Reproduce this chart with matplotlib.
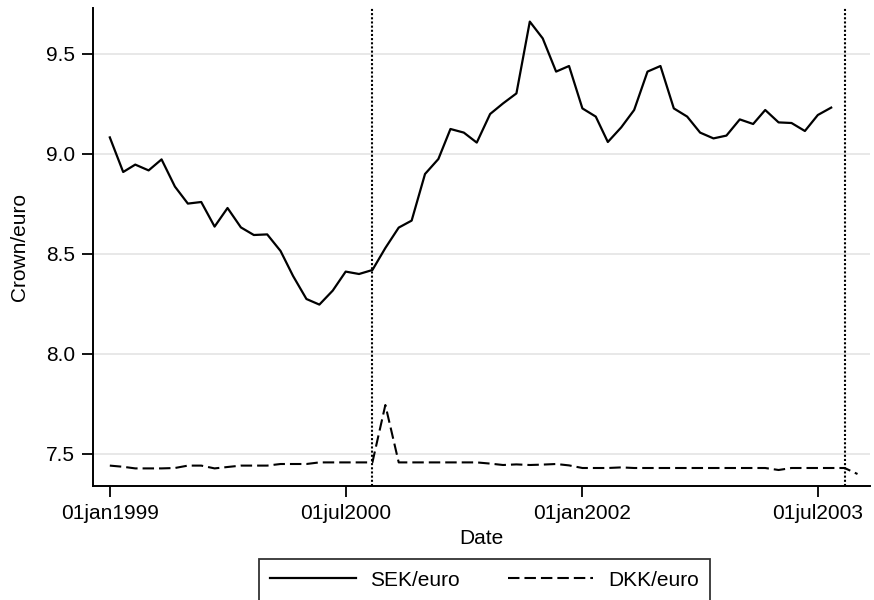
import pandas as pd
import numpy as np
import matplotlib
matplotlib.use("Agg")
import matplotlib.pyplot as plt

plt.rcParams["font.family"] = ["Liberation Sans", "DejaVu Sans"]

# monthly SEK/euro, Jan 1999 - Aug 2003
sek = [9.083, 8.910, 8.947, 8.918, 8.973, 8.837, 8.752, 8.760, 8.637, 8.730, 8.633, 8.595,
       8.598, 8.515, 8.390, 8.275, 8.247, 8.317, 8.412, 8.400, 8.420, 8.530, 8.632, 8.667,
       8.900, 8.975, 9.125, 9.107, 9.057, 9.200, 9.253, 9.303, 9.662, 9.578, 9.412, 9.440,
       9.228, 9.187, 9.060, 9.133, 9.220, 9.412, 9.440, 9.228, 9.187, 9.107, 9.078, 9.092,
       9.173, 9.150, 9.220, 9.158, 9.155, 9.115, 9.195, 9.232]

# monthly DKK/euro, Jan 1999 - Oct 2003
dkk = [7.442, 7.436, 7.428, 7.428, 7.428, 7.430, 7.442, 7.442, 7.428, 7.435, 7.442, 7.442,
       7.442, 7.450, 7.450, 7.450, 7.458, 7.458, 7.458, 7.458, 7.458, 7.745, 7.458, 7.458,
       7.458, 7.458, 7.458, 7.458, 7.458, 7.452, 7.445, 7.448, 7.445, 7.447, 7.450, 7.443,
       7.430, 7.430, 7.430, 7.433, 7.430, 7.430, 7.430, 7.430, 7.430, 7.430, 7.430, 7.430,
       7.430, 7.430, 7.430, 7.420, 7.430, 7.430, 7.430, 7.430, 7.430, 7.400]

sek_dates = pd.date_range("1999-01-01", periods=len(sek), freq="MS")
dkk_dates = pd.date_range("1999-01-01", periods=len(dkk), freq="MS")

events = pd.to_datetime(["2000-09-01", "2003-09-01"])
xticks = pd.to_datetime(["1999-01-01", "2000-07-01", "2002-01-01", "2003-07-01"])
xtick_labels = ["01jan1999", "01jul2000", "01jan2002", "01jul2003"]
yticks = [7.5, 8.0, 8.5, 9.0, 9.5]

fig = plt.figure(figsize=(8.74, 6.0), dpi=100)
ax = fig.add_axes([93 / 874, 114 / 600, 777 / 874, 478 / 600])

for y in yticks:
    ax.axhline(y, color="#e6e6e6", lw=1.3, zorder=0)

sek_line, = ax.plot(sek_dates, sek, color="black", lw=1.6)
dkk_line, = ax.plot(dkk_dates, dkk, color="black", lw=1.5, dashes=(5.5, 2.4))

for d in events:
    ax.axvline(d, color="black", lw=1.5, linestyle=(0, (1, 1)))

start = pd.Timestamp("1998-11-23")
ax.set_xlim(start, start + pd.Timedelta(days=1802))
ax.set_ylim(7.34, 9.73)
ax.set_xticks(xticks)
ax.set_xticklabels(xtick_labels)
ax.set_yticks(yticks)
ax.set_yticklabels([f"{v:.1f}" for v in yticks])

for side in ["top", "right"]:
    ax.spines[side].set_visible(False)
ax.spines["left"].set_linewidth(1.4)
ax.spines["bottom"].set_linewidth(1.4)
ax.tick_params(axis="both", labelsize=15, length=8, width=1.3, direction="out", pad=5)

ax.set_xlabel("Date", fontsize=15, labelpad=4)
ax.set_ylabel("Crown/euro", fontsize=15, labelpad=12)

leg = fig.legend([sek_line, dkk_line], ["SEK/euro", "DKK/euro"], loc="lower center",
                 bbox_to_anchor=(484.5 / 874, -0.002), ncol=2, fontsize=15, frameon=True,
                 fancybox=False, edgecolor="black", handlelength=4.1, columnspacing=2.3,
                 borderpad=0.55, handletextpad=0.7, borderaxespad=0.0)
leg.get_frame().set_linewidth(1.3)

fig.savefig("out.png", dpi=100)
